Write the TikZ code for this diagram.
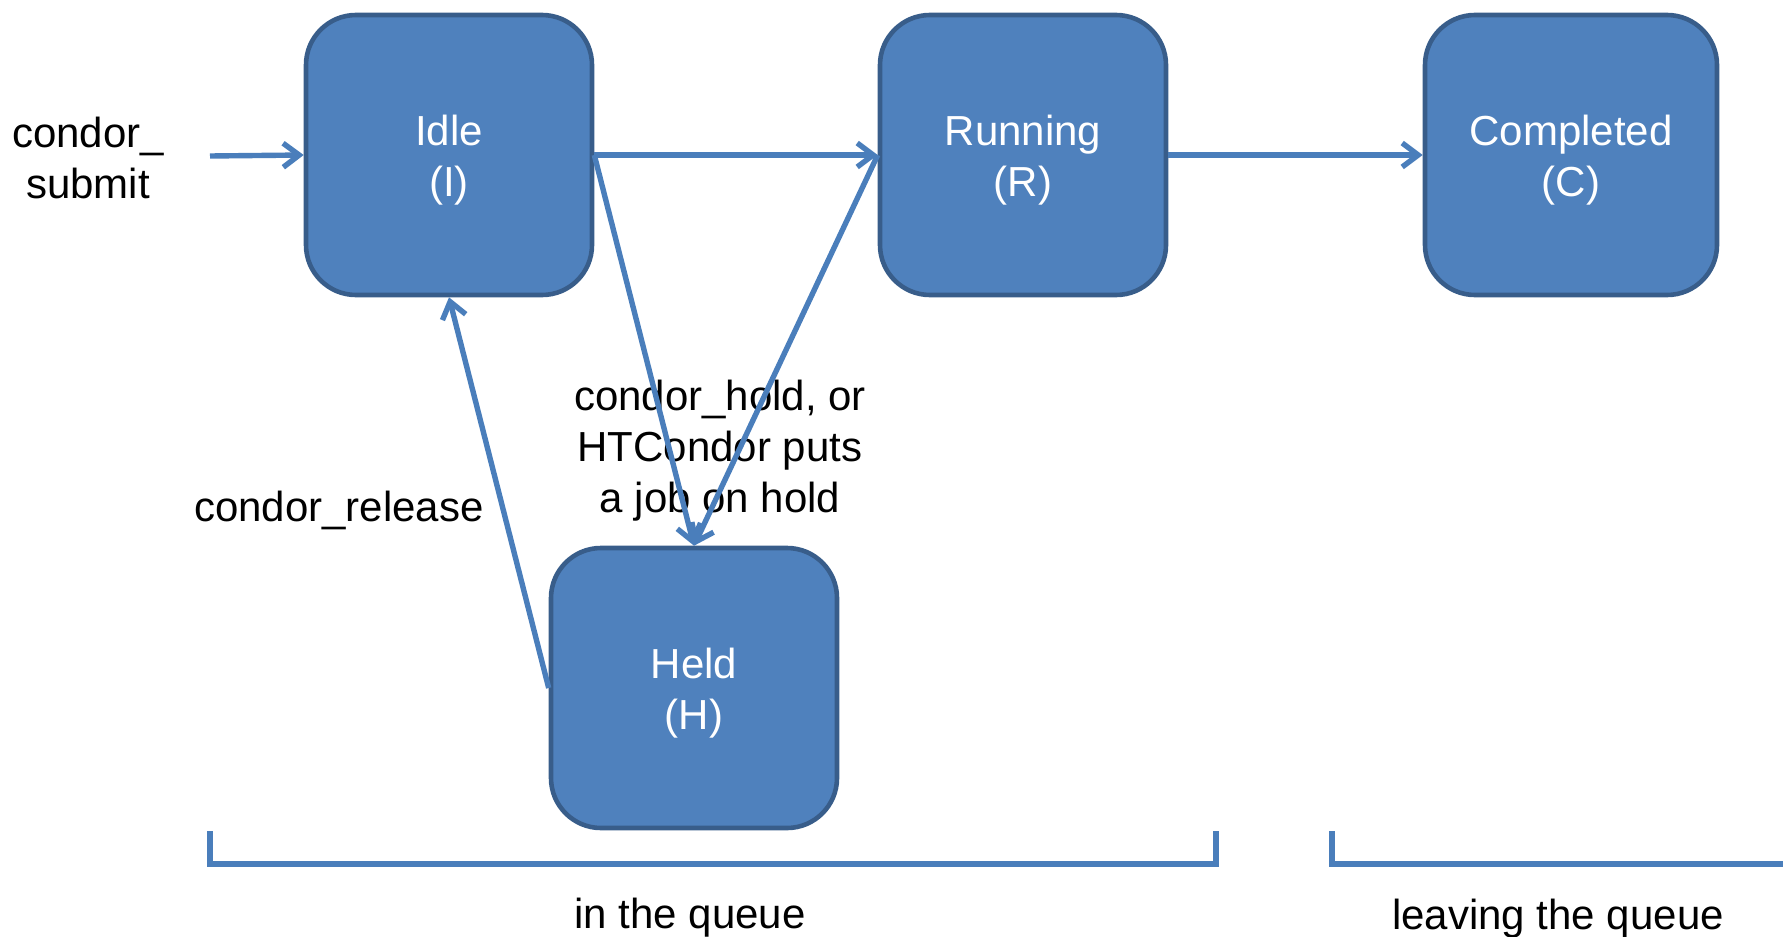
\documentclass[tikz,border=0pt]{standalone}
\usepackage{fontspec}
\setmainfont{Liberation Sans}
\usetikzlibrary{arrows.meta}
\definecolor{boxfill}{HTML}{4F81BD}
\definecolor{boxedge}{HTML}{385D8A}
\definecolor{arrowc}{HTML}{4A7EBB}
\newcommand\lowertext[1]{\raisebox{-2.8pt}[\height][\depth]{#1}}
\begin{document}
\begin{tikzpicture}[x=0.5pt,y=-0.5pt,
  state/.style={rectangle, rounded corners=25pt, fill=boxfill, draw=boxedge, line width=2.3pt,
    minimum width=143pt, minimum height=140pt, text=white, align=center,
    font=\fontsize{21}{25.5}\selectfont, inner sep=0pt},
  conn/.style={draw=arrowc, line width=2.7pt, -{Straight Barb[length=8pt,width=12pt]}},
  lbl/.style={align=center, font=\fontsize{21}{25.5}\selectfont, text=black, inner sep=0pt},
  bracketline/.style={draw=arrowc, line width=3pt}]
\useasboundingbox (0,0) rectangle (1783,937);
\clip (0,0) rectangle (1783,937);

\node[state] (idle) at (449,155) {\lowertext{Idle}\\\lowertext{(I)}};
\node[state] (run) at (1023,155) {\lowertext{Running}\\\lowertext{(R)}};
\node[state, minimum width=146pt] (comp) at (1571,155) {\lowertext{Completed}\\\lowertext{(C)}};
\node[state] (held) at (694,688) {\lowertext{Held}\\\lowertext{(H)}};

\node[lbl] (submit) at (88,158) {condor\_\\submit};
\node[lbl] (release) at (339,510) {condor\_release};
\node[lbl] (hold) at (720,451) {condor\_hold, or\\HTCondor puts\\a job on hold};
\node[lbl] (inq) at (690,918) {in the queue};
\node[lbl] (leave) at (1558,919) {leaving the queue};

\coordinate (s0) at (210,156);
\draw[conn] (s0) -- (idle.west);
\draw[conn] (idle.east) -- (run.west);
\draw[conn] (run.east) -- (comp.west);
\draw[conn] (idle.east) -- (held.north);
\draw[conn] (run.west) -- (held.north);
\draw[conn] (held.west) -- (idle.south);

\draw[bracketline] (210,831) -- (210,864) -- (1216,864) -- (1216,831);
\draw[bracketline] (1332,831) -- (1332,864) -- (1800,864);
\end{tikzpicture}
\end{document}
